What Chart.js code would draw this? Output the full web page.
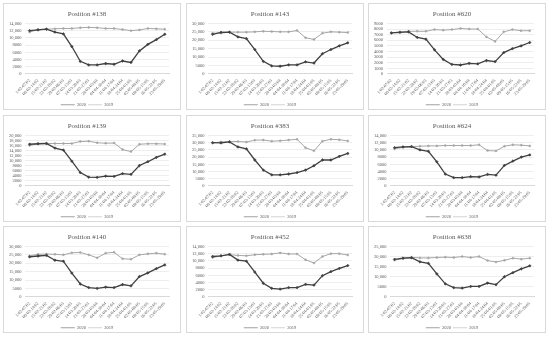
<!DOCTYPE html>
<html>
<head>
<meta charset="utf-8">
<script src="https://cdn.jsdelivr.net/npm/chart.js@4.4.1/dist/chart.umd.min.js"></script>
<style>
  body { margin: 0; background: #fff; width: 550px; height: 338px; position: relative; overflow: hidden; }
  .panel { position: absolute; width: 178px; height: 107px; border: 1px solid #d9d9d9; box-sizing: border-box; background: #fff; overflow: hidden; }
  .panel canvas { display: block; }
</style>
</head>
<body>
<script>
// Tuần (17 tuần)
const weekLabels = ['1/02-07/02', '08/02-14/02', '15/02-21/02', '22/02-28/02', '29/02-06/03',
  '07/03-13/03', '14/03-20/03', '21/03-27/03', '28/03-03/04', '04/04-10/04', '11/04-17/04',
  '18/04-24/04', '25/04-01/05', '02/05-08/05', '09/05-15/05', '16/05-22/05', '23/05-29/05'];

const positionNames = ['Position #138', 'Position #143', 'Position #620',
  'Position #139', 'Position #383', 'Position #624',
  'Position #140', 'Position #452', 'Position #638'];

// giá trị
const y2020_138 = [12000, 12200, 12400, 11600, 11100, 7600, 3500, 2500, 2500, 2900, 2700, 3600, 3200, 6400, 8200, 9500, 11000];
const y2019_138 = [11600, 12300, 12400, 12500, 12600, 12600, 12800, 12900, 12800, 12600, 12600, 12300, 12000, 12200, 12600, 12500, 12400];

const y2020_143 = [23500, 24700, 24800, 22000, 21000, 14500, 7500, 4800, 4600, 5400, 5400, 7200, 6500, 12000, 14500, 16700, 18500];
const y2019_143 = [24200, 24200, 24800, 24800, 24800, 25000, 25300, 25200, 25000, 25000, 25800, 21500, 20500, 24200, 25000, 24800, 24600];

const y2020_620 = [7300, 7400, 7500, 6500, 6200, 4300, 2600, 1700, 1600, 1900, 1800, 2400, 2200, 3800, 4500, 5000, 5600];
const y2019_620 = [7300, 7500, 7600, 7600, 7600, 7900, 7800, 7900, 8100, 8000, 8000, 6600, 5800, 7500, 7900, 7700, 7700];

const y2020_139 = [16500, 16700, 16800, 15000, 14200, 9800, 5300, 3500, 3400, 3900, 3800, 4900, 4600, 8100, 9600, 11300, 12600];
const y2019_139 = [16000, 16700, 16800, 16800, 16800, 16800, 17600, 17700, 17100, 16900, 17000, 14400, 13600, 16500, 16700, 16700, 16600];

const y2020_383 = [30000, 29800, 30500, 27000, 25700, 18000, 11000, 7700, 7700, 8300, 9300, 11000, 14000, 18000, 18000, 20500, 22500];
const y2019_383 = [29700, 30500, 30700, 30800, 30400, 31700, 31800, 31000, 31300, 31800, 32300, 26500, 24300, 31000, 32300, 32000, 31200];

const y2020_624 = [10600, 10800, 10900, 10000, 9600, 6700, 3300, 2300, 2300, 2600, 2500, 3200, 3000, 5700, 6900, 8000, 8600];
const y2019_624 = [10300, 10700, 10900, 11000, 11100, 11100, 11200, 11200, 11200, 11200, 11400, 9800, 9700, 11000, 11400, 11300, 11100];

const y2020_140 = [23800, 24300, 24700, 21800, 21200, 14200, 7700, 5600, 5100, 5800, 5600, 7400, 6600, 12100, 14300, 16800, 19000];
const y2019_140 = [24400, 25300, 25500, 25300, 25000, 26200, 26400, 25000, 23200, 26000, 26500, 22700, 22400, 25000, 25600, 26000, 25400];

const y2020_452 = [11200, 11400, 11800, 10200, 9900, 6900, 3800, 2400, 2200, 2600, 2600, 3500, 3300, 5900, 7000, 7900, 8700];
const y2019_452 = [10900, 11400, 11700, 11500, 11400, 11700, 11800, 11900, 12200, 11900, 11900, 10300, 9400, 11200, 12000, 12000, 11600];

const y2020_638 = [18600, 19200, 19400, 17400, 16600, 11400, 6500, 4600, 4400, 5200, 5200, 6900, 6100, 10000, 12000, 13900, 15400];
const y2019_638 = [18200, 19000, 19600, 19300, 19300, 19500, 19700, 19500, 20000, 19500, 20000, 18000, 17300, 18100, 19200, 18700, 19200];

// trục y: max và bước
const axisMax = [14000, 30000, 9000, 20000, 35000, 14000, 30000, 14000, 25000];
const axisStep = [2000, 5000, 1000, 2000, 5000, 2000, 5000, 2000, 5000];

const series2020 = [y2020_138, y2020_143, y2020_620, y2020_139, y2020_383, y2020_624, y2020_140, y2020_452, y2020_638];
const series2019 = [y2019_138, y2019_143, y2019_620, y2019_139, y2019_383, y2019_624, y2019_140, y2019_452, y2019_638];

const lefts = [3, 186, 368];
const tops = [3, 115, 226];

// Excel-style: chỉ có dấu phẩy khi >= 10,000
function fmt(v) {
  if (v >= 10000) return v.toLocaleString('en-US');
  return String(v);
}

const FONT = "'Liberation Serif', 'DejaVu Serif', serif";

function createLineChart(i) {
  const div = document.createElement('div');
  div.className = 'panel';
  div.style.left = lefts[i % 3] + 'px';
  div.style.top = tops[Math.floor(i / 3)] + 'px';
  const cv = document.createElement('canvas');
  cv.width = 176;
  cv.height = 105;
  div.appendChild(cv);
  document.body.appendChild(div);

  new Chart(cv.getContext('2d'), {
    type: 'line',
    data: {
      labels: weekLabels,
      datasets: [{
        label: '2020',
        data: series2020[i],
        borderColor: '#404040',
        backgroundColor: '#404040',
        borderWidth: 1.3,
        pointStyle: 'rectRot',
        pointRadius: 1.4,
        pointBorderWidth: 0.5,
        tension: 0
      }, {
        label: '2019',
        data: series2019[i],
        borderColor: '#a6a6a6',
        backgroundColor: '#a6a6a6',
        borderWidth: 1,
        pointStyle: 'circle',
        pointRadius: 1,
        pointBorderWidth: 0.5,
        tension: 0
      }]
    },
    options: {
      responsive: false,
      animation: false,
      devicePixelRatio: 1,
      // legend có thêm 10px bên dưới, kéo xuống bằng padding âm
      layout: { padding: { left: 1, right: 11, top: 0, bottom: -8 } },
      plugins: {
        title: {
          display: true,
          text: positionNames[i],
          color: '#595959',
          font: { family: FONT, size: 7, weight: 'normal' },
          padding: { top: 6, bottom: 5 }
        },
        legend: {
          position: 'bottom',
          labels: {
            usePointStyle: true,
            pointStyle: 'line',
            pointStyleWidth: 14,
            boxHeight: 2,
            padding: 2,
            color: '#595959',
            font: { family: FONT, size: 4.5 }
          }
        },
        tooltip: { enabled: false }
      },
      scales: {
        x: {
          offset: true,
          grid: { display: false, drawTicks: false },
          border: { color: '#d9d9d9' },
          ticks: {
            minRotation: 45,
            maxRotation: 45,
            autoSkip: false,
            padding: 4,
            color: '#595959',
            font: { family: FONT, size: 4.3 }
          }
        },
        y: {
          min: 0,
          max: axisMax[i],
          grid: { color: '#e3e3e3', lineWidth: 0.6, drawTicks: false },
          border: { display: false },
          ticks: {
            stepSize: axisStep[i],
            autoSkip: false,
            padding: 4,
            color: '#595959',
            font: { family: FONT, size: 4.5 },
            callback: v => fmt(v)
          }
        }
      }
    }
  });
}

for (let i = 0; i < 9; i++) {
  createLineChart(i);
}
</script>
</body>
</html>
